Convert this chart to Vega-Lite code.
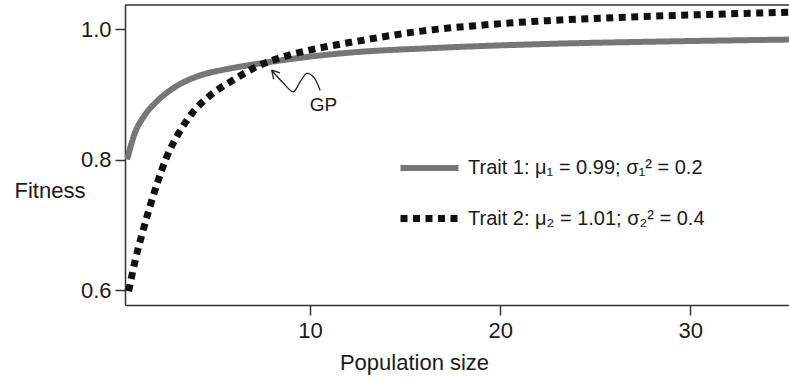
{
  "$schema": "https://vega.github.io/schema/vega-lite/v6.json",
  "autosize": {"type": "none"},
  "padding": {"left": 125, "top": 5, "right": 0, "bottom": 74},
  "width": 664,
  "height": 300,
  "config": {
    "view": {"stroke": null},
    "font": "Liberation Sans",
    "axis": {
      "grid": false,
      "domainColor": "#333333",
      "domainWidth": 1.5,
      "tickColor": "#333333",
      "tickWidth": 1.5,
      "tickSize": 10,
      "labelFont": "Liberation Sans",
      "labelFontSize": 22,
      "labelColor": "#1a1a1a",
      "titleFont": "Liberation Sans",
      "titleFontSize": 22,
      "titleFontWeight": "normal",
      "titleColor": "#1a1a1a"
    }
  },
  "datasets": {
    "curves": [
      {"trait": "Trait 1: μ₁ = 0.99; σ₁² = 0.2", "N": 0.37, "fitness": 0.800},
      {"trait": "Trait 1: μ₁ = 0.99; σ₁² = 0.2", "N": 0.77, "fitness": 0.840},
      {"trait": "Trait 1: μ₁ = 0.99; σ₁² = 0.2", "N": 1.30, "fitness": 0.868},
      {"trait": "Trait 1: μ₁ = 0.99; σ₁² = 0.2", "N": 2.0, "fitness": 0.891},
      {"trait": "Trait 1: μ₁ = 0.99; σ₁² = 0.2", "N": 2.88, "fitness": 0.911},
      {"trait": "Trait 1: μ₁ = 0.99; σ₁² = 0.2", "N": 4.21, "fitness": 0.929},
      {"trait": "Trait 1: μ₁ = 0.99; σ₁² = 0.2", "N": 5.5, "fitness": 0.938},
      {"trait": "Trait 1: μ₁ = 0.99; σ₁² = 0.2", "N": 6.84, "fitness": 0.945},
      {"trait": "Trait 1: μ₁ = 0.99; σ₁² = 0.2", "N": 8.2, "fitness": 0.951},
      {"trait": "Trait 1: μ₁ = 0.99; σ₁² = 0.2", "N": 9.47, "fitness": 0.956},
      {"trait": "Trait 1: μ₁ = 0.99; σ₁² = 0.2", "N": 12.1, "fitness": 0.964},
      {"trait": "Trait 1: μ₁ = 0.99; σ₁² = 0.2", "N": 16.5, "fitness": 0.971},
      {"trait": "Trait 1: μ₁ = 0.99; σ₁² = 0.2", "N": 22.1, "fitness": 0.977},
      {"trait": "Trait 1: μ₁ = 0.99; σ₁² = 0.2", "N": 28.5, "fitness": 0.981},
      {"trait": "Trait 1: μ₁ = 0.99; σ₁² = 0.2", "N": 35.2, "fitness": 0.984},
      {"trait": "Trait 2: μ₂ = 1.01; σ₂² = 0.4", "N": 0.45, "fitness": 0.598},
      {"trait": "Trait 2: μ₂ = 1.01; σ₂² = 0.4", "N": 0.81, "fitness": 0.647},
      {"trait": "Trait 2: μ₂ = 1.01; σ₂² = 0.4", "N": 1.16, "fitness": 0.686},
      {"trait": "Trait 2: μ₂ = 1.01; σ₂² = 0.4", "N": 1.53, "fitness": 0.724},
      {"trait": "Trait 2: μ₂ = 1.01; σ₂² = 0.4", "N": 1.95, "fitness": 0.763},
      {"trait": "Trait 2: μ₂ = 1.01; σ₂² = 0.4", "N": 2.44, "fitness": 0.803},
      {"trait": "Trait 2: μ₂ = 1.01; σ₂² = 0.4", "N": 3.02, "fitness": 0.837},
      {"trait": "Trait 2: μ₂ = 1.01; σ₂² = 0.4", "N": 3.79, "fitness": 0.871},
      {"trait": "Trait 2: μ₂ = 1.01; σ₂² = 0.4", "N": 4.77, "fitness": 0.899},
      {"trait": "Trait 2: μ₂ = 1.01; σ₂² = 0.4", "N": 5.96, "fitness": 0.922},
      {"trait": "Trait 2: μ₂ = 1.01; σ₂² = 0.4", "N": 7.16, "fitness": 0.942},
      {"trait": "Trait 2: μ₂ = 1.01; σ₂² = 0.4", "N": 8.51, "fitness": 0.957},
      {"trait": "Trait 2: μ₂ = 1.01; σ₂² = 0.4", "N": 9.83, "fitness": 0.967},
      {"trait": "Trait 2: μ₂ = 1.01; σ₂² = 0.4", "N": 11.2, "fitness": 0.975},
      {"trait": "Trait 2: μ₂ = 1.01; σ₂² = 0.4", "N": 12.6, "fitness": 0.982},
      {"trait": "Trait 2: μ₂ = 1.01; σ₂² = 0.4", "N": 14.0, "fitness": 0.989},
      {"trait": "Trait 2: μ₂ = 1.01; σ₂² = 0.4", "N": 15.35, "fitness": 0.995},
      {"trait": "Trait 2: μ₂ = 1.01; σ₂² = 0.4", "N": 16.75, "fitness": 1.000},
      {"trait": "Trait 2: μ₂ = 1.01; σ₂² = 0.4", "N": 18.2, "fitness": 1.004},
      {"trait": "Trait 2: μ₂ = 1.01; σ₂² = 0.4", "N": 20.3, "fitness": 1.009},
      {"trait": "Trait 2: μ₂ = 1.01; σ₂² = 0.4", "N": 22.5, "fitness": 1.013},
      {"trait": "Trait 2: μ₂ = 1.01; σ₂² = 0.4", "N": 25.5, "fitness": 1.017},
      {"trait": "Trait 2: μ₂ = 1.01; σ₂² = 0.4", "N": 28.2, "fitness": 1.020},
      {"trait": "Trait 2: μ₂ = 1.01; σ₂² = 0.4", "N": 31.5, "fitness": 1.023},
      {"trait": "Trait 2: μ₂ = 1.01; σ₂² = 0.4", "N": 35.2, "fitness": 1.026}
    ],
    "arrow": [
      {"seg": "shaft", "o": 1, "N": 7.98, "fitness": 0.937},
      {"seg": "shaft", "o": 2, "N": 8.6, "fitness": 0.917},
      {"seg": "shaft", "o": 3, "N": 9.12, "fitness": 0.904},
      {"seg": "shaft", "o": 4, "N": 9.47, "fitness": 0.919},
      {"seg": "shaft", "o": 5, "N": 9.83, "fitness": 0.932},
      {"seg": "shaft", "o": 6, "N": 10.17, "fitness": 0.927},
      {"seg": "shaft", "o": 7, "N": 10.53, "fitness": 0.906},
      {"seg": "arm1", "o": 1, "N": 7.98, "fitness": 0.937},
      {"seg": "arm1", "o": 2, "N": 8.42, "fitness": 0.933},
      {"seg": "arm2", "o": 1, "N": 7.98, "fitness": 0.937},
      {"seg": "arm2", "o": 2, "N": 8.08, "fitness": 0.923}
    ],
    "label": [
      {"text": "GP", "N": 10.7, "fitness": 0.883}
    ]
  },
  "layer": [
    {
      "data": {"name": "curves"},
      "mark": {"type": "line", "interpolate": "monotone", "strokeCap": "butt", "clip": true},
      "encoding": {
        "x": {
          "field": "N", "type": "quantitative",
          "scale": {"domain": [0.26, 35.2], "nice": false, "zero": false},
          "axis": {"values": [10, 20, 30], "labelPadding": 5, "title": "Population size", "titleX": 289, "titleY": 57, "titleBaseline": "middle", "titleAnchor": null, "titleAlign": "center"}
        },
        "y": {
          "field": "fitness", "type": "quantitative",
          "scale": {"domain": [0.577, 1.037], "nice": false, "zero": false},
          "axis": {"values": [0.6, 0.8, 1.0], "format": ".1f", "labelPadding": 4, "title": "Fitness", "titleAngle": 0, "titleAlign": "left", "titleBaseline": "middle", "titleX": -111, "titleY": 185}
        },
        "color": {
          "field": "trait", "type": "nominal",
          "scale": {"range": ["#767676", "#111111"]},
          "legend": {
            "orient": "none", "legendX": 272, "legendY": 131, "title": null,
            "symbolType": "stroke", "symbolSize": 3364, "rowPadding": 6,
            "labelFont": "Liberation Sans", "labelFontSize": 20, "labelColor": "#1a1a1a",
            "labelOffset": 6, "padding": 0, "labelLimit": 400
          }
        },
        "strokeDash": {
          "field": "trait", "type": "nominal",
          "scale": {"range": [[1, 0], [7, 5.5]]}
        },
        "strokeWidth": {
          "field": "trait", "type": "nominal",
          "scale": {"range": [6, 7]}
        }
      }
    },
    {
      "data": {"values": [{"edge": "top"}]},
      "mark": {"type": "rule", "color": "#333333", "strokeWidth": 1.5},
      "encoding": {"y": {"datum": 1.037}}
    },
    {
      "data": {"name": "arrow"},
      "mark": {"type": "line", "interpolate": "catmull-rom", "color": "#222222", "strokeWidth": 1.3},
      "encoding": {
        "x": {"field": "N", "type": "quantitative"},
        "y": {"field": "fitness", "type": "quantitative"},
        "detail": {"field": "seg"},
        "order": {"field": "o"}
      }
    },
    {
      "data": {"name": "label"},
      "mark": {"type": "text", "font": "Liberation Sans", "fontSize": 19, "color": "#1a1a1a"},
      "encoding": {
        "x": {"field": "N", "type": "quantitative"},
        "y": {"field": "fitness", "type": "quantitative"},
        "text": {"field": "text"}
      }
    }
  ]
}
